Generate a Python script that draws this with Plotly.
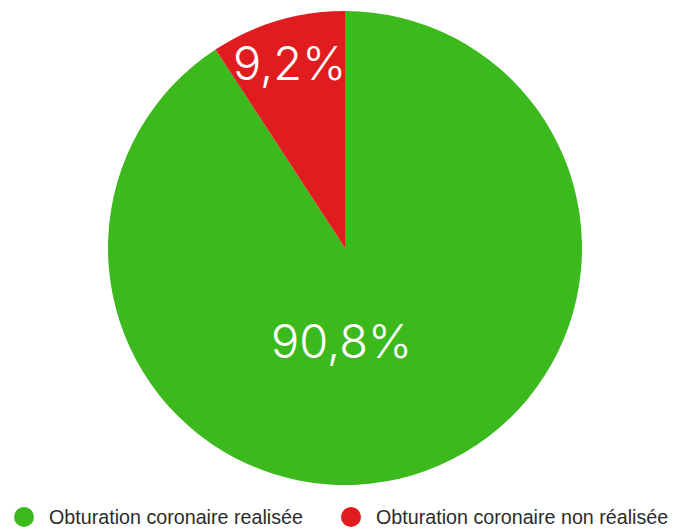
import math
import plotly.graph_objects as go

labels = ["Obturation coronaire realisée", "Obturation coronaire non réalisée"]
values = [90.8, 9.2]
text_labels = ["90,8%", "9,2%"]
colors = ["#3cb91c", "#e11c1f"]

# figure drawn inside the page body (8px default margin)
W, H = 670, 521
cx, cy, R = 337, 240, 237
label_radius = [0.39, 0.815]
label_shift_deg = [19, 0]

fig = go.Figure()
fig.add_trace(go.Pie(
    labels=labels, values=values,
    textinfo="none",
    sort=False, direction="clockwise", rotation=0,
    marker=dict(colors=colors, line=dict(width=0)),
    hoverinfo="label+percent",
    showlegend=False,
    domain=dict(x=[(cx - R) / W, (cx + R) / W], y=[(H - cy - R) / H, (H - cy + R) / H]),
))

total = sum(values)
cum = 0.0
annotations = []
for v, t, rf, sh in zip(values, text_labels, label_radius, label_shift_deg):
    theta = 2 * math.pi * (cum + v / 2) / total + math.radians(sh)
    cum += v
    px = cx + rf * R * math.sin(theta)
    py = cy - rf * R * math.cos(theta)
    annotations.append(dict(
        x=px / W, y=1 - py / H, xref="paper", yref="paper",
        text=t, showarrow=False, xanchor="center", yanchor="middle",
        font=dict(family="Inter", size=47, color="white", weight=300),
    ))

# legend drawn manually (circles + text)
leg_y = 509
leg_circle_x = [16, 343]
leg_text_x = [39, 366]
shapes = []
for lab, col, lx, tx in zip(labels, colors, leg_circle_x, leg_text_x):
    shapes.append(dict(
        type="circle", xref="paper", yref="paper",
        x0=(lx - 10) / W, x1=(lx + 10) / W,
        y0=1 - (leg_y + 10) / H, y1=1 - (leg_y - 10) / H,
        fillcolor=col, line=dict(width=0),
    ))
    annotations.append(dict(
        x=tx / W, y=1 - leg_y / H, xref="paper", yref="paper",
        text=lab, showarrow=False, xanchor="left", yanchor="middle",
        font=dict(family="Liberation Sans", size=19.7, color="#2b2b2b"),
    ))

fig.update_layout(
    width=W, height=H,
    margin=dict(l=0, r=0, t=0, b=0),
    paper_bgcolor="white", plot_bgcolor="white",
    annotations=annotations, shapes=shapes,
    showlegend=False,
)
fig.write_html("out.html")
